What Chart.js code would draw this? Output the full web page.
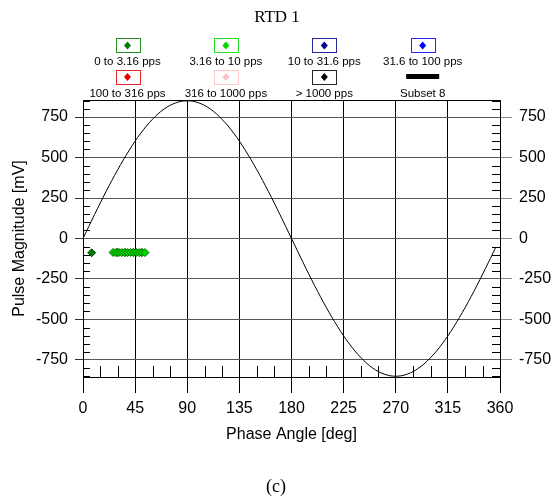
<!DOCTYPE html>
<html>
<head>
<meta charset="utf-8">
<script src="https://cdn.jsdelivr.net/npm/chart.js@4/dist/chart.umd.min.js"></script>
<style>
  html, body { margin: 0; padding: 0; background: #fff; }
  #wrap { width: 553px; height: 502px; }
</style>
</head>
<body>
<div id="wrap"><canvas id="c" width="553" height="502"></canvas></div>
<script>
// Phase-resolved pulse magnitudes, binned by pulse repetition rate
const chartTitle = 'RTD 1';
const caption = '(c)';
const seriesLabels = ['0 to 3.16 pps', '3.16 to 10 pps', '10 to 31.6 pps', '31.6 to 100 pps',
                      '100 to 316 pps', '316 to 1000 pps', '> 1000 pps', 'Subset 8'];
const seriesColors = ['#007c00', '#00d800', '#000090', '#0000ff',
                      '#e00000', '#ffc2c2', '#000000', '#000000'];

const xTicks = [0, 45, 90, 135, 180, 225, 270, 315, 360];
const yTicks = [-750, -500, -250, 0, 250, 500, 750];

// 0 to 3.16 pps
const bin0Phase = [7.5, 29.5, 36.5, 43.5, 50.5];
const bin0Mv    = [-88, -86, -87, -86, -87];
// 3.16 to 10 pps
const bin1Phase = [26, 28.5, 31, 33.5, 36, 38.5, 41, 43.5, 46, 48.5, 51, 53.5];
const bin1Mv    = [-86, -87, -86, -87, -86, -87, -86, -87, -86, -87, -86, -87];
// remaining rate bins hold no pulses
const bin2Phase = [], bin2Mv = [];
const bin3Phase = [], bin3Mv = [];
const bin4Phase = [], bin4Mv = [];
const bin5Phase = [], bin5Mv = [];
const bin6Phase = [], bin6Mv = [];

// Subset 8: supply voltage reference trace
const refPhase = [0, 10, 20, 30, 40, 50, 60, 70, 80, 90, 100, 110, 120, 130, 140, 150, 160, 170, 180,
                  190, 200, 210, 220, 230, 240, 250, 260, 270, 280, 290, 300, 310, 320, 330, 340, 350, 356];
const refMv = [0, 148, 291, 425, 546, 651, 736, 799, 837, 850, 837, 799, 736, 651, 546, 425, 291, 148, 0,
               -148, -291, -425, -546, -651, -736, -799, -837, -850, -837, -799, -736, -651, -546, -425, -291, -148, -59];

const Y_MIN = -855, Y_MAX = 855;
const SANS = "'Liberation Sans', Arial, sans-serif";
const SERIF = "'Liberation Serif', 'Times New Roman', serif";

function pairs(xs, ys) { return xs.map((x, i) => ({ x: x, y: ys[i] })); }

function pointSet(i, xs, ys, border, order) {
  return {
    type: 'scatter',
    label: seriesLabels[i],
    data: pairs(xs, ys),
    pointStyle: 'rectRot',
    pointRadius: 4,
    backgroundColor: seriesColors[i],
    borderColor: border || seriesColors[i],
    borderWidth: 1,
    order: order || 0,
    yAxisID: 'y'
  };
}

const datasets = [
  pointSet(0, bin0Phase, bin0Mv, '#005000', 2),
  pointSet(1, bin1Phase, bin1Mv, '#006e00', 1),
  pointSet(2, bin2Phase, bin2Mv),
  pointSet(3, bin3Phase, bin3Mv),
  pointSet(4, bin4Phase, bin4Mv),
  pointSet(5, bin5Phase, bin5Mv),
  pointSet(6, bin6Phase, bin6Mv),
  {
    type: 'line',
    label: seriesLabels[7],
    data: pairs(refPhase, refMv),
    borderColor: seriesColors[7],
    borderWidth: 1,
    pointRadius: 0,
    tension: 0.4,
    fill: false,
    order: 10,   // reference trace sits underneath the pulses
    yAxisID: 'y'
  }
];

// Title, two-row legend, frame top edge, minor ticks and caption
const decorations = {
  id: 'decorations',
  afterDraw(chart) {
    const ctx = chart.ctx;
    const area = chart.chartArea;
    const xs = chart.scales.x, ys = chart.scales.y;
    ctx.save();

    // title
    ctx.fillStyle = '#000';
    ctx.font = '17px ' + SERIF;
    ctx.textAlign = 'center';
    ctx.textBaseline = 'middle';
    ctx.fillText(chartTitle, 277, 18);

    // legend
    const colX0 = 127.5, colStep = 98.4;
    const boxTop = [38, 69.5], textY = [62, 93.5];
    chart.data.datasets.forEach((ds, i) => {
      const col = i % 4, row = Math.floor(i / 4);
      const cx = colX0 + col * colStep;
      if (ds.type === 'line') {
        ctx.fillStyle = ds.borderColor;
        ctx.fillRect(cx - 16.5, boxTop[row] + 4.5, 33, 5);
      } else {
        ctx.strokeStyle = ds.backgroundColor;
        ctx.lineWidth = 1;
        ctx.globalAlpha = 0.85;
        ctx.strokeRect(Math.round(cx - 12) + 0.5, Math.round(boxTop[row]) + 0.5, 24, 14);
        ctx.globalAlpha = 1;
        const my = boxTop[row] + 7.5;
        ctx.fillStyle = ds.backgroundColor;
        ctx.beginPath();
        ctx.moveTo(cx, my - 4);
        ctx.lineTo(cx + 3.5, my);
        ctx.lineTo(cx, my + 4);
        ctx.lineTo(cx - 3.5, my);
        ctx.closePath();
        ctx.fill();
      }
      ctx.fillStyle = '#000';
      ctx.font = '11.5px ' + SANS;
      ctx.textAlign = 'center';
      ctx.textBaseline = 'middle';
      ctx.fillText(ds.label, cx, textY[row]);
    });

    // top edge of the frame
    ctx.strokeStyle = '#000';
    ctx.lineWidth = 1;
    ctx.beginPath();
    ctx.moveTo(area.left, Math.round(area.top) + 0.5);
    ctx.lineTo(area.right, Math.round(area.top) + 0.5);
    ctx.stroke();

    // minor ticks: every 15 deg on the bottom, every 50 mV on both sides
    ctx.strokeStyle = '#000';
    ctx.beginPath();
    for (let d = 15; d < 360; d += 15) {
      if (d % 45 === 0) continue;
      const px = Math.round(xs.getPixelForValue(d)) + 0.5;
      ctx.moveTo(px, area.bottom);
      ctx.lineTo(px, area.bottom - 11);
    }
    for (let v = -850; v <= 850; v += 50) {
      if (v % 250 === 0) continue;
      const py = Math.round(ys.getPixelForValue(v)) + 0.5;
      ctx.moveTo(area.left, py);
      ctx.lineTo(area.left + 7, py);
      ctx.moveTo(area.right, py);
      ctx.lineTo(area.right - 8, py);
    }
    ctx.stroke();

    // caption
    ctx.fillStyle = '#000';
    ctx.font = '18px ' + SERIF;
    ctx.textAlign = 'center';
    ctx.textBaseline = 'middle';
    ctx.fillText(caption, 276, 487);

    ctx.restore();
  }
};

new Chart(document.getElementById('c'), {
  data: { datasets: datasets },
  options: {
    responsive: false,
    animation: false,
    devicePixelRatio: 1,
    layout: { padding: { top: 100, left: 0, right: 0, bottom: 55 } },
    plugins: {
      legend: { display: false },
      title: { display: false },
      tooltip: { enabled: false }
    },
    scales: {
      x: {
        type: 'linear',
        position: 'bottom',
        min: 0, max: 360,
        afterBuildTicks: s => { s.ticks = xTicks.map(v => ({ value: v })); },
        afterFit: s => { s.height = 70; },
        grid: { color: '#000', tickColor: '#000', lineWidth: 1, tickLength: 16, drawOnChartArea: true },
        border: { display: true, color: '#000', width: 1 },
        ticks: { color: '#000', font: { family: SANS, size: 16 }, padding: 6, maxRotation: 0 },
        title: { display: true, text: 'Phase Angle [deg]', color: '#000',
                 font: { family: SANS, size: 16 }, padding: { top: 0, bottom: 3 } }
      },
      y: {
        type: 'linear',
        position: 'left',
        min: Y_MIN, max: Y_MAX,
        afterBuildTicks: s => { s.ticks = yTicks.map(v => ({ value: v })); },
        afterFit: s => { s.width = 83; },
        grid: { color: '#555', tickColor: '#333', lineWidth: 1, tickLength: 8, drawOnChartArea: true },
        border: { display: true, color: '#000', width: 1 },
        ticks: { color: '#000', font: { family: SANS, size: 16 }, padding: 7 },
        title: { display: true, text: 'Pulse Magnitude [mV]', color: '#000',
                 font: { family: SANS, size: 16 }, padding: { top: 10, bottom: 0 } }
      },
      y2: {
        type: 'linear',
        position: 'right',
        min: Y_MIN, max: Y_MAX,
        afterBuildTicks: s => { s.ticks = yTicks.map(v => ({ value: v })); },
        afterFit: s => { s.width = 53; },
        grid: { color: '#888', tickColor: '#888', lineWidth: 1, tickLength: 12, drawOnChartArea: false },
        border: { display: true, color: '#000', width: 1 },
        ticks: { color: '#000', font: { family: SANS, size: 16 }, padding: 7 }
      }
    }
  },
  plugins: [decorations]
});
</script>
</body>
</html>
